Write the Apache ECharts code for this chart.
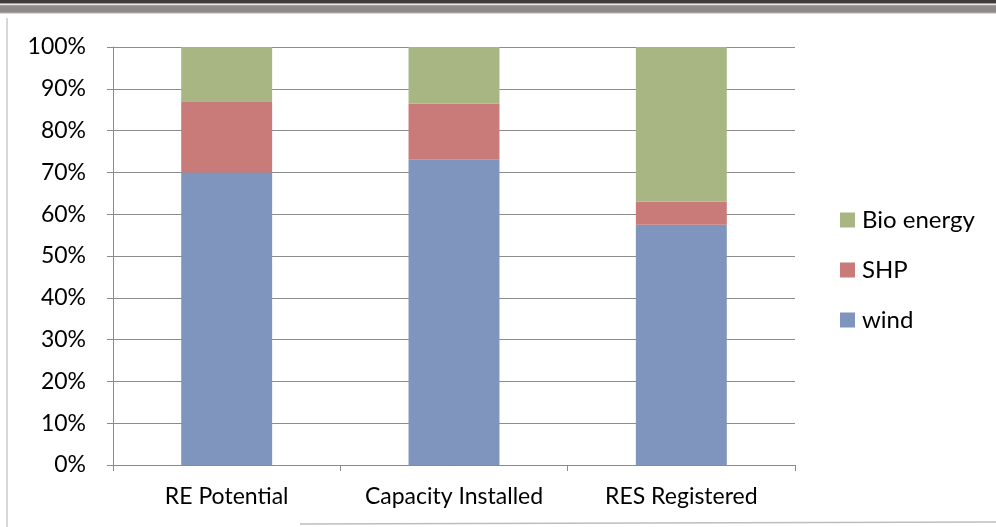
<!DOCTYPE html>
<html>
<head>
<meta charset="utf-8">
<title>RE share by source</title>
<script src="https://cdn.jsdelivr.net/npm/echarts@6/dist/echarts.min.js"></script>
<style>
  html, body { margin: 0; padding: 0; background: #ffffff; }
  #chart { width: 996px; height: 527px; }
</style>
</head>
<body>
<div id="chart"></div>
<script>
// Share of each renewable source (percent of total per category)
const categories = ['RE Potential', 'Capacity Installed', 'RES Registered'];
const windShare = [70, 73, 57.5];
const shpShare = [17, 13.5, 5.5];
const bioShare = [13, 13.5, 37];
const yTicks = [0, 10, 20, 30, 40, 50, 60, 70, 80, 90, 100];

const FONT = 'Lato, "Open Sans", sans-serif';
const chart = echarts.init(document.getElementById('chart'));

function barSeries(name, data, color) {
  return {
    name: name,
    type: 'bar',
    stack: 'share',
    barWidth: '40%',
    data: data,
    itemStyle: { color: color },
    emphasis: { disabled: true }
  };
}

chart.setOption({
  animation: false,
  backgroundColor: '#ffffff',
  grid: { left: 113, right: 201, top: 47, bottom: 62 },
  legend: {
    orient: 'vertical',
    left: 835,
    top: 203,
    itemGap: 26,
    itemWidth: 15,
    itemHeight: 15,
    icon: 'rect',
    data: ['Bio energy', 'SHP', 'wind'],
    textStyle: { fontFamily: FONT, fontSize: 24, color: '#000', padding: [0, 0, 0, 2] }
  },
  xAxis: {
    type: 'category',
    data: categories,
    axisLine: { show: true, lineStyle: { color: '#8a8a8a', width: 1 } },
    axisTick: { show: true, alignWithLabel: false, length: 6, lineStyle: { color: '#8a8a8a' } },
    axisLabel: {
      fontFamily: FONT, fontSize: 23, color: '#000', margin: 20,
      interval: 0, hideOverlap: false
    }
  },
  yAxis: {
    type: 'value',
    min: 0,
    max: 100,
    interval: 10,
    axisLine: { show: true, lineStyle: { color: '#8a8a8a', width: 1 } },
    axisTick: { show: true, length: 6, inside: false, lineStyle: { color: '#8a8a8a' } },
    splitLine: { show: true, lineStyle: { color: '#8c8c8c', width: 1 } },
    axisLabel: {
      fontFamily: FONT, fontSize: 23, color: '#000', margin: 27,
      customValues: yTicks,
      formatter: v => v + '%'
    }
  },
  series: [
    barSeries('wind', windShare, '#7f95bd'),
    barSeries('SHP', shpShare, '#c97b79'),
    barSeries('Bio energy', bioShare, '#a7b682')
  ],
  graphic: [
    // frame of the chart area
    { type: 'rect', left: 0, top: 0, shape: { width: 996, height: 13 }, style: { fill: '#8f8a8a' }, silent: true },
    { type: 'line', shape: { x1: 0, y1: 4.5, x2: 996, y2: 4.5 }, style: { stroke: '#e6e3e3', lineWidth: 1.5 }, silent: true },
    { type: 'line', shape: { x1: 0, y1: 1.5, x2: 996, y2: 1.5 }, style: { stroke: '#3f3a3a', lineWidth: 3 }, silent: true },
    { type: 'line', shape: { x1: 0, y1: 13, x2: 996, y2: 13 }, style: { stroke: '#b8b4b4', lineWidth: 1 }, silent: true },
    { type: 'line', shape: { x1: 7, y1: 18, x2: 7, y2: 527 }, style: { stroke: '#b0b0b0', lineWidth: 1 }, silent: true },
    { type: 'line', shape: { x1: 300, y1: 524, x2: 996, y2: 522 }, style: { stroke: '#bdbdbd', lineWidth: 1.5 }, silent: true }
  ]
});
</script>
</body>
</html>
